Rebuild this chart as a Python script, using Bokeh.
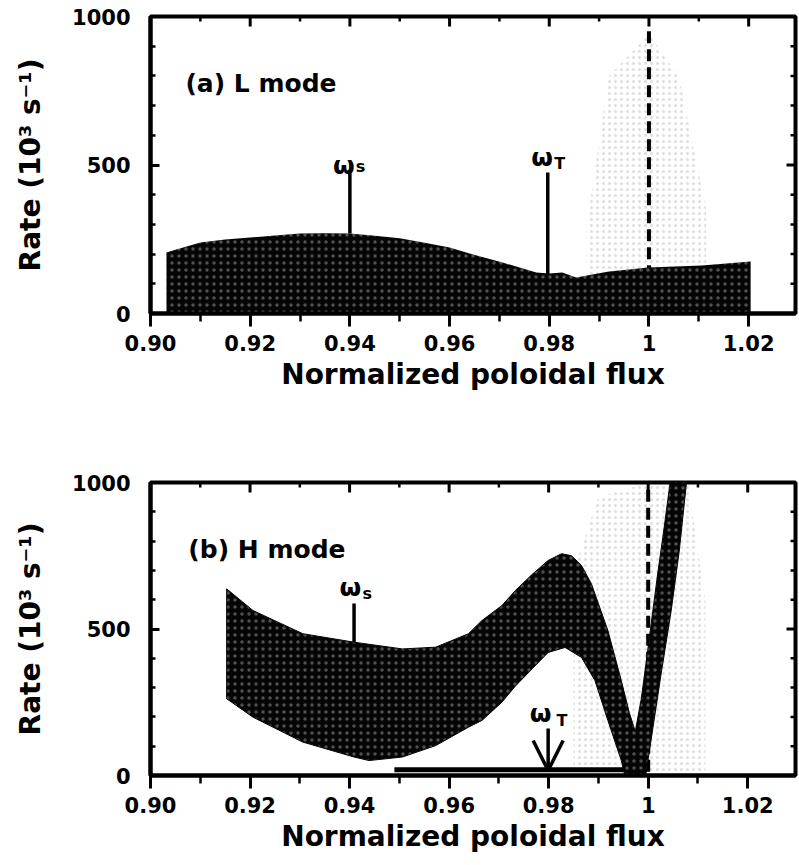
from bokeh.plotting import figure
from bokeh.layouts import column
from bokeh.models import FixedTicker, Range1d, Arrow, OpenHead
from bokeh.core.properties import value
from bokeh.embed import file_html
from bokeh.resources import INLINE

# ---------------- data ----------------
x_ticks = [0.90, 0.92, 0.94, 0.96, 0.98, 1.00, 1.02]
x_tick_labels = ["0.90", "0.92", "0.94", "0.96", "0.98", "1", "1.02"]
x_minor = [0.91, 0.93, 0.95, 0.97, 0.99, 1.01]
y_ticks = [0, 500, 1000]
y_tick_labels = ["0", "500", "1000"]
y_minor = [100, 200, 300, 400, 600, 700, 800, 900]

separatrix = 1.0

# (a) L mode band
l_flux = [0.9032, 0.905, 0.910, 0.915, 0.920, 0.925, 0.930, 0.935, 0.940, 0.945,
          0.950, 0.955, 0.960, 0.964, 0.9706, 0.9774, 0.980, 0.9826, 0.9854,
          0.992, 1.000, 1.0106, 1.0204]
l_rate_hi = [205, 215, 239, 249, 256, 263, 269, 270, 269, 262,
             253, 238, 222, 202, 172, 138, 135, 138, 121,
             141, 155, 162, 175]
l_rate_lo = [0] * len(l_flux)

# (b) H mode band: upper edge and lower edge
h_up_flux = [0.9153, 0.9206, 0.9306, 0.9409, 0.9506, 0.9573, 0.9639, 0.9666, 0.9706,
             0.9733, 0.9766, 0.9799, 0.9826, 0.9846, 0.9866, 0.9886, 0.9919, 0.9946,
             0.9962, 0.9974, 0.9986, 0.9999, 1.0019, 1.0032, 1.0044, 1.0049]
h_up_rate = [637, 563, 484, 455, 432, 438, 484, 529, 580,
             631, 685, 734, 757, 750, 717, 654, 495, 324,
             215, 150, 260, 427, 688, 845, 1000, 1060]
h_lo_flux = [0.9153, 0.9206, 0.9306, 0.9409, 0.9439, 0.9506, 0.9573, 0.9639, 0.9666,
             0.9706, 0.9733, 0.9799, 0.9833, 0.9866, 0.9893, 0.9919, 0.9946, 0.9953,
             0.9995, 1.0026, 1.0046, 1.0062, 1.0076, 1.0080]
h_lo_rate = [262, 199, 114, 63, 51, 63, 102, 165, 188,
             250, 305, 420, 437, 403, 324, 188, 51, 0,
             0, 347, 560, 760, 983, 1060]

# stippled region around the separatrix
l_stip_flux = [0.9875, 0.992, 1.000, 1.006, 1.0115]
l_stip_top = [300, 800, 940, 800, 350]
h_stip_flux = [0.985, 0.990, 1.000, 1.008, 1.0115]
h_stip_top = [700, 950, 1000, 1000, 600]

# frequency markers
l_ws = dict(x=0.940, y0=475, y1=269, lx=0.9366, ly=498, sx=0.9412, sy=494)
l_wt = dict(x=0.9797, y0=475, y1=130, lx=0.9764, ly=525, sx=0.9810, sy=505)
h_ws = dict(x=0.9409, y0=587, y1=455, lx=0.9380, ly=642, sx=0.9426, sy=621)
h_wt = dict(x=0.9799, y0=160, y1=17, lx=0.9762, ly=212, sx=0.9816, sy=188)
h_bar = dict(x0=0.9490, x1=0.9952, y=20)

panel_titles = ["(a) L mode", "(b) H mode"]
title_pos = [(0.907, 774), (0.9076, 771)]

FONT = "DejaVu Sans"
XLABEL = "Normalized poloidal flux"
YLABEL = "Rate (10\u00b3 s\u207b\u00b9)"
WIDTH = 799
PX_PER_FLUX = 5000.0


def make_fig(height, top, left, right, bottom):
    frame_w = WIDTH - left - right
    frame_h = height - top - bottom
    x_end = 0.90 + frame_w / PX_PER_FLUX
    p = figure(width=WIDTH, height=height,
               x_range=Range1d(0.90, x_end), y_range=Range1d(0, 1000),
               output_backend="svg", toolbar_location=None,
               min_border_top=top, min_border_left=left,
               min_border_right=right, min_border_bottom=bottom,
               x_axis_label=XLABEL, y_axis_label=YLABEL)
    p.xgrid.visible = False
    p.ygrid.visible = False
    p.outline_line_color = "black"
    p.outline_line_width = 4
    p.background_fill_color = "white"
    p.border_fill_color = "white"

    xa = p.xaxis[0]
    xa.ticker = FixedTicker(ticks=x_ticks, minor_ticks=x_minor)
    xa.major_label_overrides = dict(zip(x_ticks, x_tick_labels))
    xa.major_tick_in = 0
    xa.major_tick_out = 13
    xa.minor_tick_in = 0
    xa.minor_tick_out = 8
    xa.major_label_standoff = 8
    xa.axis_label_standoff = 4

    ya = p.yaxis[0]
    ya.ticker = FixedTicker(ticks=y_ticks, minor_ticks=y_minor)
    ya.major_label_overrides = dict(zip(y_ticks, y_tick_labels))
    ya.major_tick_in = 9
    ya.major_tick_out = 0
    ya.minor_tick_in = 5
    ya.minor_tick_out = 0
    ya.major_label_standoff = 20
    ya.axis_label_standoff = 22

    for ax in (xa, ya):
        ax.axis_line_width = 4
        ax.major_tick_line_width = 3
        ax.minor_tick_line_width = 2.5
        ax.major_label_text_font = FONT
        ax.major_label_text_font_style = "bold"
        ax.major_label_text_font_size = "21px"
        ax.major_label_text_color = "black"
        ax.axis_label_text_font = FONT
        ax.axis_label_text_font_style = "bold"
        ax.axis_label_text_font_size = "28px"
        ax.axis_label_text_color = "black"

    # inward ticks on the top and right frame edges
    px_per_rate = frame_h / 1000.0
    p.segment(x0=x_ticks, y0=[1000] * len(x_ticks), x1=x_ticks,
              y1=[1000 - 10 / px_per_rate] * len(x_ticks),
              line_color="black", line_width=3)
    p.segment(x0=x_minor, y0=[1000] * len(x_minor), x1=x_minor,
              y1=[1000 - 5 / px_per_rate] * len(x_minor),
              line_color="black", line_width=2.5)
    p.segment(x0=[x_end] * len(y_ticks), y0=y_ticks,
              x1=[x_end - 9 / PX_PER_FLUX] * len(y_ticks), y1=y_ticks,
              line_color="black", line_width=3)
    p.segment(x0=[x_end] * len(y_minor), y0=y_minor,
              x1=[x_end - 5 / PX_PER_FLUX] * len(y_minor), y1=y_minor,
              line_color="black", line_width=2.5)
    return p


def add_markers(p, ws, wt, arrow=False):
    p.segment(x0=[ws["x"]], y0=[ws["y0"]], x1=[ws["x"]], y1=[ws["y1"]],
              line_color="black", line_width=3.5)
    if arrow:
        p.add_layout(Arrow(end=OpenHead(size=30, line_width=3.5, line_color="black"),
                           x_start=wt["x"], y_start=wt["y0"],
                           x_end=wt["x"], y_end=wt["y1"],
                           line_width=3.5, line_color="black"))
    else:
        p.segment(x0=[wt["x"]], y0=[wt["y0"]], x1=[wt["x"]], y1=[wt["y1"]],
                  line_color="black", line_width=3.5)
    p.text(x=[ws["lx"], wt["lx"]], y=[ws["ly"], wt["ly"]], text=["\u03c9", "\u03c9"],
           text_font=value(FONT), text_font_style="bold", text_font_size="25px",
           text_baseline="alphabetic", text_align="left", text_color="black")
    p.text(x=[ws["sx"], wt["sx"]], y=[ws["sy"], wt["sy"]], text=["s", "T"],
           text_font=value(FONT), text_font_style="bold", text_font_size="16px",
           text_baseline="alphabetic", text_align="left", text_color="black")


def add_title(p, i):
    p.text(x=[title_pos[i][0]], y=[title_pos[i][1]], text=[panel_titles[i]],
           text_font=value(FONT), text_font_style="bold", text_font_size="25px",
           text_baseline="alphabetic", text_align="left", text_color="black")


STIPPLE = dict(fill_alpha=0, hatch_pattern="dot", hatch_color="#a0a0a0",
               hatch_scale=6, hatch_weight=0.8, hatch_alpha=0.35)
SPECKLE = dict(fill_color="#050505", hatch_pattern="dot", hatch_color="white",
               hatch_scale=7, hatch_weight=0.6, hatch_alpha=0.3)

# ---------------- (a) L mode ----------------
pa = make_fig(400, 16, 150, 2, 87)
pa.varea(x=l_stip_flux, y1=[0] * len(l_stip_flux), y2=l_stip_top, **STIPPLE)
pa.line(x=[separatrix, separatrix], y=[950, 0], line_color="black",
        line_width=4, line_dash="12 6")
pa.varea(x=l_flux, y1=l_rate_lo, y2=l_rate_hi, **SPECKLE)
add_markers(pa, l_ws, l_wt)
add_title(pa, 0)

# ---------------- (b) H mode ----------------
pb = make_fig(460, 82, 147, 4, 85)
pb.varea(x=h_stip_flux, y1=[0] * len(h_stip_flux), y2=h_stip_top, **STIPPLE)
pb.line(x=[separatrix, separatrix], y=[975, 0], line_color="black",
        line_width=4, line_dash="12 6")
band_x = h_up_flux + h_lo_flux[::-1]
band_y = h_up_rate + h_lo_rate[::-1]
pb.patch(x=band_x, y=band_y, line_color="#050505", line_width=1, **SPECKLE)
pb.segment(x0=[h_bar["x0"]], y0=[h_bar["y"]], x1=[h_bar["x1"]], y1=[h_bar["y"]],
           line_color="black", line_width=5)
add_markers(pb, h_ws, h_wt, arrow=True)
add_title(pb, 1)

layout = column(pa, pb, spacing=0)
open("out.html", "w").write(file_html(layout, INLINE))
